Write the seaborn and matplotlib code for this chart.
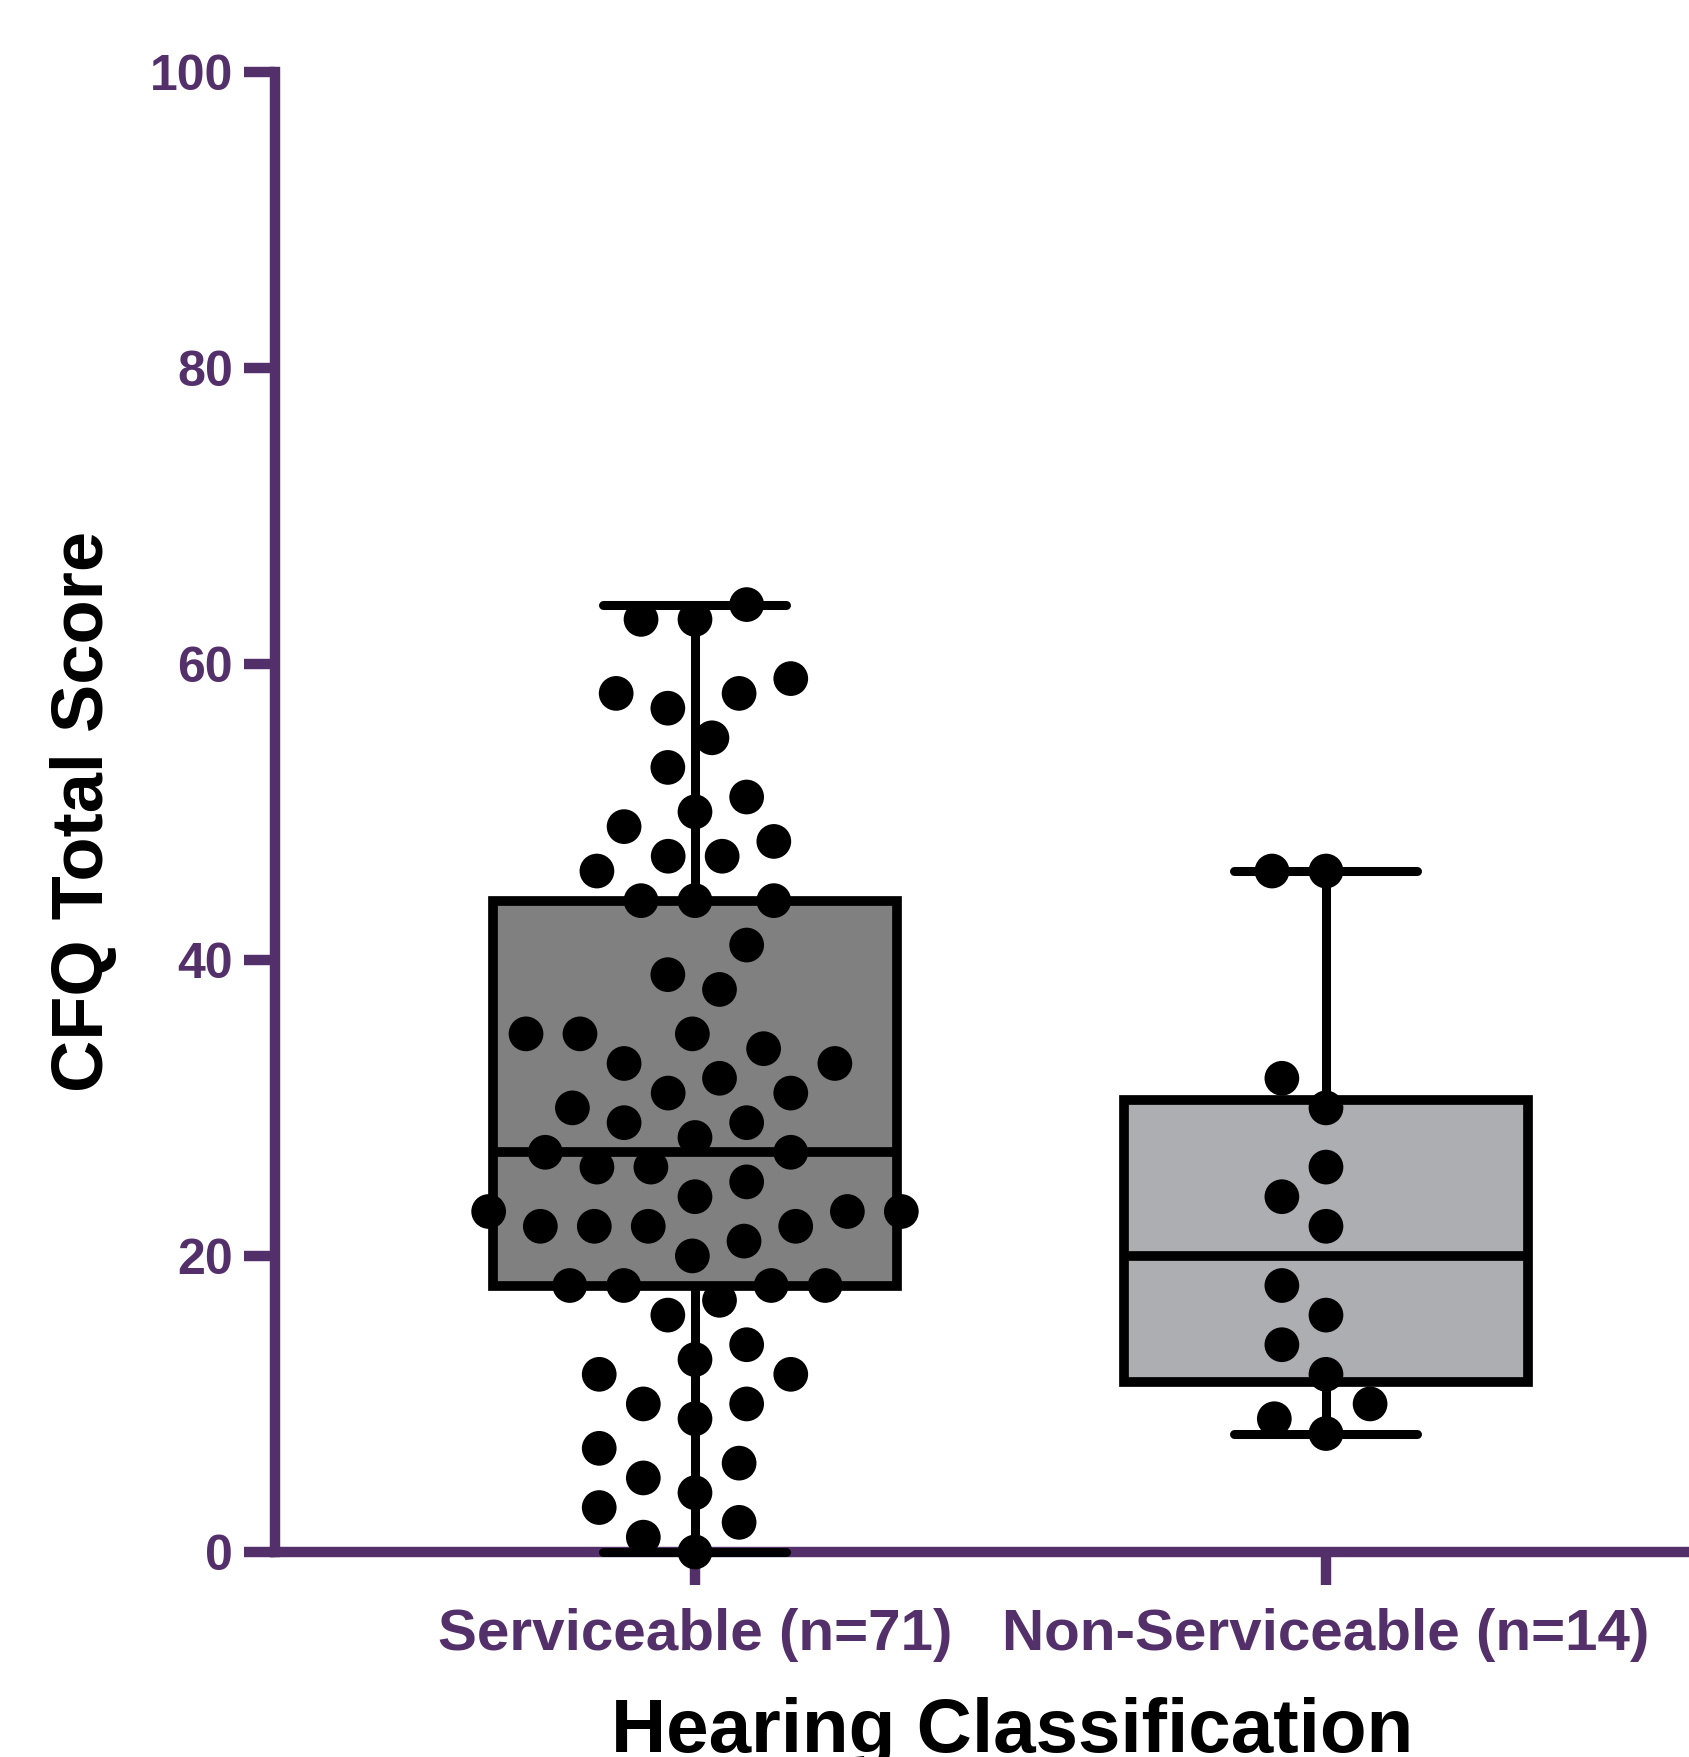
import numpy as np
import pandas as pd
import matplotlib
matplotlib.use("Agg")
import matplotlib.pyplot as plt
import seaborn as sns

# ---------------- data ----------------
categories = ["Serviceable (n=71)", "Non-Serviceable (n=14)"]
serviceable_scores = [64, 63, 63, 59, 58, 58, 57, 55, 53, 51, 50, 49, 48, 47, 47, 46,
                      44, 44, 44, 41, 39, 38, 35, 35, 35, 34, 33, 33, 32, 31, 31, 30,
                      29, 29, 28, 27, 27, 26, 26, 25, 24, 23, 23, 23, 22, 22, 22, 22,
                      21, 20, 18, 18, 18, 18, 17, 16, 14, 13, 12, 12, 10, 10, 9, 7,
                      6, 5, 4, 3, 2, 1, 0]
nonserviceable_scores = [46, 46, 32, 30, 26, 24, 22, 18, 16, 14, 12, 10, 9, 8]
y_ticks = [0, 20, 40, 60, 80, 100]
box_colors = ["#808080", "#ADAEB1"]
y_label = "CFQ Total Score"
x_label = "Hearing Classification"

purple = "#54306A"

# ---------------- style ----------------
sns.set_style("ticks")
plt.rcParams["font.family"] = ["Liberation Sans", "DejaVu Sans"]
plt.rcParams["font.weight"] = "bold"

df = pd.DataFrame({
    "group": [categories[0]] * len(serviceable_scores) + [categories[1]] * len(nonserviceable_scores),
    "score": serviceable_scores + nonserviceable_scores,
})

fig = plt.figure(figsize=(16.9, 17.57), dpi=100)
ax = fig.add_axes([0.1625, 0.1167, 0.8375, 0.8425])


def box_stats(vals):
    v = np.asarray(vals, dtype=float)
    q1, med, q3 = np.percentile(v, [25, 50, 75], method="weibull")
    return dict(med=med, q1=q1, q3=q3, whislo=v.min(), whishi=v.max(), fliers=[])


stats = [box_stats(serviceable_scores), box_stats(nonserviceable_scores)]
bp = ax.bxp(stats, positions=[0, 1], widths=0.64, patch_artist=True,
            showfliers=False, capwidths=0.29, manage_ticks=False,
            boxprops=dict(linewidth=7, edgecolor="black", joinstyle="miter"),
            medianprops=dict(color="black", linewidth=7, solid_capstyle="butt"),
            whiskerprops=dict(color="black", linewidth=6.5),
            capprops=dict(color="black", linewidth=6.5, solid_capstyle="round"))
for patch, c in zip(bp["boxes"], box_colors):
    patch.set_facecolor(c)
    patch.set_zorder(2)
for key in ["whiskers", "caps", "medians"]:
    for ln in bp[key]:
        ln.set_zorder(3)
        ln.set_clip_on(False)

# invisible edge width widens the swarm spacing (GraphPad-like gaps between dots)
sns.swarmplot(data=df, x="group", y="score", order=categories, color="black",
              size=25, ax=ax, zorder=4, clip_on=False, linewidth=12,
              edgecolor="none", warn_thresh=1.0)

ax.set_xlim(-0.6662, 1.5769)
ax.set_ylim(0, 100)
ax.set_yticks(y_ticks)
ax.set_xticks([0, 1])
ax.set_xticklabels(categories)

for s in ["top", "right"]:
    ax.spines[s].set_visible(False)
for s in ["left", "bottom"]:
    ax.spines[s].set_color(purple)
    ax.spines[s].set_linewidth(7.5)
    ax.spines[s].set_zorder(1)

ax.tick_params(axis="y", length=22, width=7.5, color=purple, labelcolor=purple,
               labelsize=36, pad=8, direction="out")
ax.tick_params(axis="x", length=24, width=7.5, color=purple, labelcolor=purple,
               labelsize=42, pad=16, direction="out")
for lbl in ax.get_xticklabels() + ax.get_yticklabels():
    lbl.set_fontweight("bold")

ax.set_ylabel(y_label, fontsize=52, fontweight="bold", color="black")
ax.yaxis.set_label_coords(-0.1350, 0.5)
ax.yaxis.label.set_va("center")
ax.set_xlabel(x_label, fontsize=55, fontweight="bold", color="black")
ax.xaxis.set_label_coords(0.521, -0.1351)
ax.xaxis.label.set_va("baseline")

fig.savefig("out.png", dpi=100)
